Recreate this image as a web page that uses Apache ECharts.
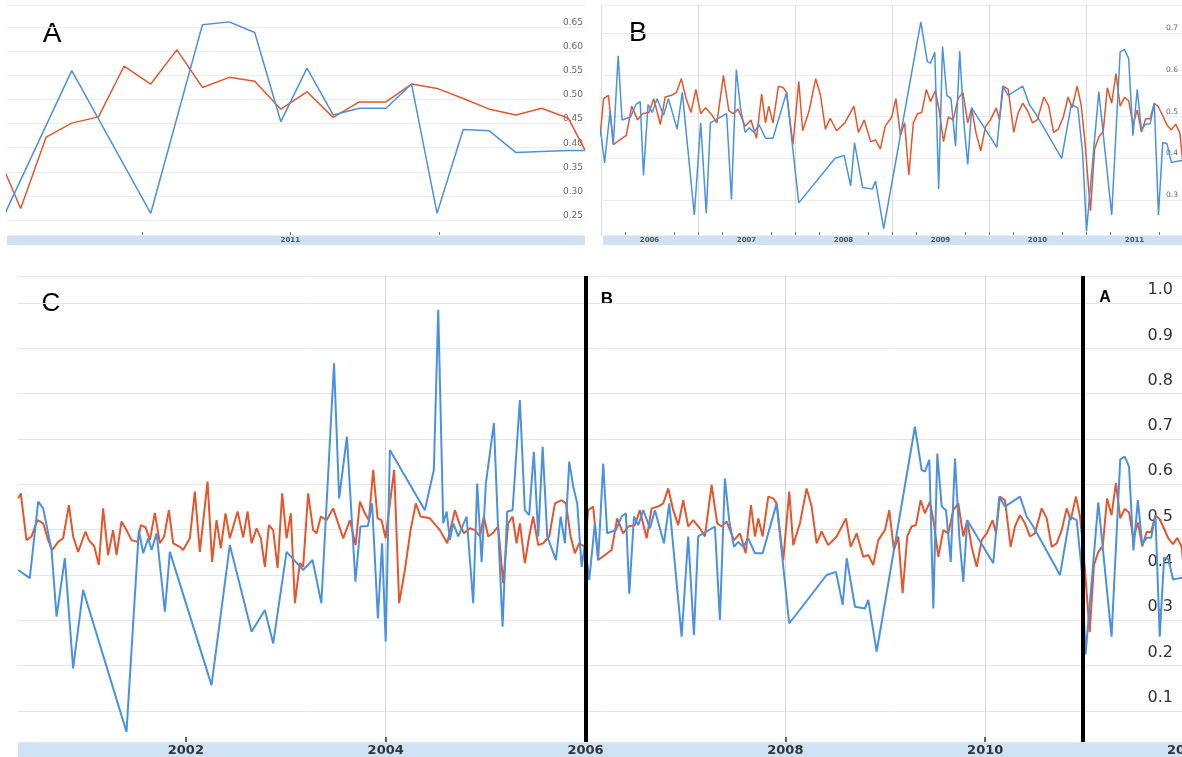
<!DOCTYPE html>
<html><head><meta charset="utf-8">
<script src="https://cdn.jsdelivr.net/npm/echarts@6/dist/echarts.min.js"></script>
<style>html,body{margin:0;padding:0;background:#fff}#c{width:1182px;height:757px}</style>
</head><body><div id="c"></div>
<script>
// [decimal year, value]
const redPoints = [
[2000.321,0.569],[2000.348,0.58],[2000.405,0.477],[2000.455,0.485],[2000.516,0.521],[2000.572,0.514],[2000.622,0.477],[2000.662,0.455],[2000.722,0.473],[2000.772,0.481],[2000.829,0.554],[2000.872,0.485],[2000.922,0.451],[2000.996,0.496],[2001.029,0.477],[2001.082,0.464],[2001.129,0.422],[2001.172,0.547],[2001.222,0.444],[2001.272,0.499],[2001.306,0.444],[2001.356,0.518],[2001.406,0.499],[2001.456,0.477],[2001.516,0.473],[2001.550,0.510],[2001.597,0.505],[2001.640,0.477],[2001.690,0.537],[2001.740,0.470],[2001.783,0.485],[2001.830,0.543],[2001.873,0.470],[2001.940,0.462],[2001.973,0.455],[2002.040,0.481],[2002.090,0.584],[2002.140,0.451],[2002.217,0.606],[2002.263,0.429],[2002.307,0.521],[2002.350,0.459],[2002.397,0.536],[2002.440,0.481],[2002.518,0.540],[2002.574,0.483],[2002.618,0.540],[2002.658,0.470],[2002.708,0.503],[2002.751,0.481],[2002.791,0.418],[2002.831,0.510],[2002.874,0.499],[2002.918,0.415],[2002.964,0.580],[2003.008,0.481],[2003.051,0.536],[2003.091,0.338],[2003.141,0.426],[2003.174,0.418],[2003.224,0.580],[2003.274,0.499],[2003.308,0.492],[2003.351,0.529],[2003.408,0.521],[2003.474,0.547],[2003.575,0.481],[2003.642,0.521],[2003.699,0.466],[2003.742,0.562],[2003.792,0.536],[2003.832,0.521],[2003.875,0.632],[2003.919,0.525],[2003.959,0.521],[2003.999,0.481],[2004.042,0.558],[2004.085,0.632],[2004.135,0.338],[2004.192,0.411],[2004.249,0.499],[2004.302,0.558],[2004.349,0.529],[2004.442,0.525],[2004.543,0.499],[2004.616,0.470],[2004.693,0.543],[2004.743,0.510],[2004.783,0.492],[2004.843,0.503],[2004.893,0.499],[2004.943,0.485],[2004.983,0.529],[2005.026,0.485],[2005.070,0.492],[2005.126,0.507],[2005.176,0.382],[2005.226,0.514],[2005.270,0.529],[2005.310,0.470],[2005.343,0.514],[2005.393,0.426],[2005.436,0.485],[2005.476,0.529],[2005.527,0.466],[2005.577,0.470],[2005.637,0.485],[2005.694,0.558],[2005.761,0.565],[2005.804,0.558],[2005.851,0.485],[2005.894,0.448],[2005.937,0.470],[2005.994,0.462],
[2006.027,0.543],[2006.077,0.551],[2006.127,0.433],[2006.194,0.444],[2006.261,0.455],[2006.317,0.525],[2006.377,0.492],[2006.427,0.507],[2006.494,0.510],[2006.544,0.543],[2006.612,0.481],[2006.662,0.547],[2006.728,0.551],[2006.778,0.558],[2006.828,0.591],[2006.878,0.543],[2006.928,0.510],[2006.978,0.565],[2007.028,0.507],[2007.078,0.521],[2007.145,0.503],[2007.195,0.485],[2007.262,0.599],[2007.318,0.514],[2007.362,0.507],[2007.413,0.518],[2007.486,0.477],[2007.546,0.492],[2007.603,0.448],[2007.656,0.554],[2007.696,0.485],[2007.729,0.525],[2007.773,0.485],[2007.829,0.573],[2007.879,0.569],[2007.913,0.558],[2007.979,0.433],[2008.039,0.584],[2008.079,0.466],[2008.146,0.514],[2008.213,0.591],[2008.263,0.551],[2008.313,0.470],[2008.363,0.496],[2008.429,0.466],[2008.514,0.485],[2008.607,0.525],[2008.654,0.462],[2008.714,0.492],[2008.780,0.440],[2008.830,0.444],[2008.880,0.422],[2008.930,0.477],[2008.997,0.499],[2009.040,0.543],[2009.087,0.455],[2009.130,0.485],[2009.174,0.360],[2009.220,0.485],[2009.264,0.507],[2009.307,0.510],[2009.354,0.565],[2009.397,0.536],[2009.447,0.562],[2009.487,0.514],[2009.531,0.440],[2009.581,0.499],[2009.631,0.492],[2009.681,0.543],[2009.731,0.558],[2009.781,0.485],[2009.821,0.521],[2009.865,0.462],[2009.915,0.418],[2009.965,0.477],[2010.015,0.492],[2010.075,0.521],[2010.108,0.492],[2010.148,0.573],[2010.198,0.565],[2010.255,0.462],[2010.298,0.507],[2010.348,0.532],[2010.398,0.514],[2010.448,0.485],[2010.498,0.492],[2010.566,0.547],[2010.616,0.525],[2010.666,0.462],[2010.716,0.470],[2010.766,0.499],[2010.816,0.547],[2010.856,0.521],[2010.909,0.573],[2010.949,0.529],[2010.985,0.45],
[2011.046,0.274],[2011.089,0.422],[2011.132,0.451],[2011.177,0.464],[2011.220,0.569],[2011.265,0.532],[2011.309,0.603],[2011.352,0.525],[2011.397,0.546],[2011.440,0.538],[2011.484,0.480],[2011.528,0.516],[2011.572,0.463],[2011.616,0.495],[2011.661,0.495],[2011.704,0.532],[2011.747,0.523],[2011.791,0.502],[2011.835,0.480],[2011.880,0.468],[2011.923,0.482],[2011.968,0.461],[2011.996,0.395]
];
const bluePoints = [
[2000.321,0.411],[2000.438,0.393],[2000.522,0.562],[2000.572,0.547],[2000.656,0.455],[2000.706,0.308],[2000.789,0.437],[2000.872,0.194],[2000.972,0.367],[2001.406,0.054],[2001.530,0.499],[2001.573,0.448],[2001.623,0.481],[2001.657,0.455],[2001.707,0.492],[2001.790,0.319],[2001.840,0.451],[2002.257,0.157],[2002.440,0.466],[2002.658,0.275],[2002.791,0.323],[2002.874,0.249],[2003.008,0.451],[2003.174,0.411],[2003.268,0.433],[2003.356,0.338],[2003.483,0.867],[2003.534,0.569],[2003.612,0.705],[2003.697,0.385],[2003.747,0.507],[2003.822,0.508],[2003.864,0.558],[2003.922,0.304],[2003.964,0.47],[2004.000,0.253],[2004.042,0.676],[2004.392,0.543],[2004.482,0.632],[2004.526,0.985],[2004.576,0.514],[2004.610,0.540],[2004.643,0.477],[2004.676,0.514],[2004.726,0.485],[2004.810,0.529],[2004.876,0.338],[2004.916,0.602],[2004.960,0.429],[2005.003,0.602],[2005.083,0.735],[2005.126,0.499],[2005.170,0.286],[2005.216,0.540],[2005.270,0.543],[2005.343,0.786],[2005.393,0.543],[2005.436,0.532],[2005.483,0.672],[2005.527,0.485],[2005.571,0.683],[2005.617,0.485],[2005.704,0.433],[2005.751,0.529],[2005.794,0.470],[2005.837,0.650],[2005.877,0.595],[2005.917,0.558],[2005.961,0.418],[2005.994,0.470],
[2006.037,0.389],[2006.094,0.514],[2006.127,0.433],[2006.177,0.646],[2006.217,0.492],[2006.304,0.499],[2006.361,0.529],[2006.404,0.536],[2006.438,0.359],[2006.485,0.529],[2006.528,0.510],[2006.578,0.543],[2006.645,0.503],[2006.695,0.543],[2006.785,0.470],[2006.838,0.558],[2006.962,0.264],[2007.028,0.485],[2007.085,0.268],[2007.128,0.485],[2007.295,0.507],[2007.345,0.301],[2007.395,0.613],[2007.438,0.521],[2007.486,0.462],[2007.528,0.473],[2007.578,0.462],[2007.629,0.481],[2007.696,0.448],[2007.773,0.448],[2007.913,0.558],[2008.039,0.293],[2008.413,0.400],[2008.507,0.407],[2008.574,0.334],[2008.614,0.437],[2008.697,0.330],[2008.797,0.326],[2008.830,0.345],[2008.914,0.231],[2009.297,0.727],[2009.364,0.632],[2009.397,0.628],[2009.441,0.654],[2009.481,0.326],[2009.521,0.668],[2009.565,0.551],[2009.608,0.543],[2009.655,0.429],[2009.698,0.657],[2009.741,0.485],[2009.781,0.385],[2009.821,0.521],[2010.081,0.426],[2010.141,0.573],[2010.198,0.551],[2010.348,0.573],[2010.415,0.529],[2010.481,0.507],[2010.749,0.400],[2010.849,0.529],[2010.916,0.521],[2010.966,0.411],[2011.005,0.225],
[2011.132,0.560],[2011.265,0.264],[2011.352,0.655],[2011.397,0.661],[2011.440,0.639],[2011.484,0.454],[2011.528,0.565],[2011.572,0.468],[2011.616,0.482],[2011.661,0.482],[2011.704,0.532],[2011.747,0.264],[2011.791,0.438],[2011.835,0.435],[2011.880,0.390],[2011.923,0.392],[2011.968,0.394],[2011.996,0.394]
];
const cYearTicks = [2002, 2004, 2006, 2008, 2010, 2012];
const bYearLabels = [2006, 2007, 2008, 2009, 2010, 2011];
const aYearLabels = [2011];
const markerYears = [2006, 2010.98];

const RED = '#e4562c', BLUE = '#4a92e0', BAND = '#cfe2f4';
const FONT = 'DejaVu Sans';

const bTicks = [];
bYearLabels.forEach(y => { [0.25, 0.75, 1].forEach(q => { if (y + q < 2012) bTicks.push(y + q); }); });
const aTicks = [2011.25, 2011.5, 2011.75];

function ls(data, color, width, xi, yi, extra) {
  return Object.assign({
    type: 'line', data: data, xAxisIndex: xi, yAxisIndex: yi,
    showSymbol: false, symbol: 'none', clip: true, animation: false,
    lineStyle: { color: color, width: width }, itemStyle: { color: color },
    emphasis: { disabled: true }
  }, extra || {});
}

const chart = echarts.init(document.getElementById('c'), null, { renderer: 'canvas' });
chart.setOption({
  animation: false,
  grid: [
    { left: 7, top: 5, width: 578, height: 230, outerBoundsMode: 'none', containLabel: false },
    { left: 601, top: 5, right: -1, height: 230, outerBoundsMode: 'none', containLabel: false },
    { left: 18, top: 276, right: -3, bottom: 15, outerBoundsMode: 'none', containLabel: false }
  ],
  xAxis: [
    { gridIndex: 0, type: 'value', min: 2011.023, max: 2011.996, minInterval: 0.25, maxInterval: 0.25,
      axisLine: { show: false }, splitLine: { show: false },
      axisTick: { inside: true, length: 3, customValues: aTicks, lineStyle: { color: '#777' } },
      axisLabel: { customValues: aYearLabels.map(y => y + 0.5), formatter: v => String(Math.floor(v)),
        margin: 2, fontSize: 7, fontWeight: 'bold', color: '#555', fontFamily: FONT } },
    { gridIndex: 1, type: 'value', min: 2006, max: 2012, interval: 1, position: 'top',
      axisLine: { show: false }, axisTick: { show: false }, axisLabel: { show: false },
      splitLine: { show: true, lineStyle: { color: '#dcdcdc', width: 1 } } },
    { gridIndex: 1, type: 'value', min: 2006, max: 2012, interval: 1, position: 'bottom',
      axisLine: { show: false }, splitLine: { show: false },
      axisTick: { inside: true, length: 3, customValues: bTicks, lineStyle: { color: '#777' } },
      axisLabel: { customValues: bYearLabels.map(y => y + 0.5), formatter: v => String(Math.floor(v)),
        margin: 2, fontSize: 7, fontWeight: 'bold', color: '#555', fontFamily: FONT } },
    { gridIndex: 2, type: 'value', min: 2000.32, max: 2012, minInterval: 2, maxInterval: 2,
      axisLine: { show: false },
      splitLine: { show: true, showMinLine: false, showMaxLine: false, lineStyle: { color: '#d6d6d6', width: 1 } },
      axisTick: { inside: true, length: 5, customValues: cYearTicks, lineStyle: { color: '#333', width: 1.5 } },
      axisLabel: { customValues: cYearTicks, formatter: v => String(Math.round(v)),
        margin: 2, fontSize: 13, fontWeight: 'bold', color: '#333', fontFamily: FONT } }
  ],
  yAxis: [
    { gridIndex: 0, type: 'value', position: 'right', min: 0.219, max: 0.696, minInterval: 0.05, maxInterval: 0.05,
      axisLine: { show: false }, axisTick: { show: false },
      splitLine: { lineStyle: { color: '#ececec' } },
      axisLabel: { inside: true, margin: 2, fontSize: 9, color: '#666', fontFamily: FONT, verticalAlign: 'bottom',
        showMinLabel: false, showMaxLabel: false, formatter: v => v.toFixed(2) } },
    { gridIndex: 1, type: 'value', position: 'right', min: 0.216, max: 0.7676, minInterval: 0.1, maxInterval: 0.1,
      axisLine: { show: false }, axisTick: { show: false },
      splitLine: { lineStyle: { color: '#ececec' } },
      axisLabel: { inside: true, margin: 5, fontSize: 7.5, color: '#666', fontFamily: FONT, verticalAlign: 'bottom',
        padding: [0, 0, 1, 0], showMinLabel: false, showMaxLabel: false, formatter: v => v.toFixed(1) } },
    { gridIndex: 2, type: 'value', position: 'right', min: 0.0316, max: 1.0596, minInterval: 0.1, maxInterval: 0.1,
      axisLine: { show: false }, axisTick: { show: false },
      splitLine: { lineStyle: { color: '#e6e6e6' } },
      axisLabel: { inside: true, margin: 12, fontSize: 16, color: '#333', fontFamily: FONT, verticalAlign: 'bottom',
        padding: [0, 0, 5, 0], showMinLabel: false, showMaxLabel: false, formatter: v => v.toFixed(1) } }
  ],
  series: [
    ls(redPoints, RED, 1.5, 0, 0),
    ls(bluePoints, BLUE, 1.5, 0, 0),
    ls(redPoints, RED, 1.5, 2, 1),
    ls(bluePoints, BLUE, 1.5, 2, 1),
    ls(redPoints, RED, 2, 3, 2),
    ls(bluePoints, BLUE, 2, 3, 2, {
      markLine: { silent: true, animation: false, symbol: ['none', 'none'], label: { show: false },
        emphasis: { disabled: true },
        lineStyle: { color: '#000', width: 4, type: 'solid' },
        data: markerYears.map(x => ({ xAxis: x })) }
    })
  ],
  graphic: [
    { type: 'rect', z: -1, silent: true, shape: { x: 7, y: 235, width: 578, height: 10 }, style: { fill: BAND } },
    { type: 'rect', z: -1, silent: true, shape: { x: 603, y: 235, width: 579, height: 10 }, style: { fill: BAND } },
    { type: 'rect', z: -1, silent: true, shape: { x: 18, y: 742, width: 1164, height: 15 }, style: { fill: BAND } },
    { type: 'text', x: 52, y: 34, style: { text: 'A', font: '28px "Liberation Sans"', fill: '#000', align: 'center', verticalAlign: 'middle', textAlign: 'center', textVerticalAlign: 'middle' } },
    { type: 'text', x: 638, y: 34, style: { text: 'B', font: '27px "Liberation Sans"', fill: '#000', align: 'center', verticalAlign: 'middle', textAlign: 'center', textVerticalAlign: 'middle' } },
    { type: 'text', x: 51, y: 304, style: { text: 'C', font: '26px "Liberation Sans"', fill: '#000', align: 'center', verticalAlign: 'middle', textAlign: 'center', textVerticalAlign: 'middle' } },
    { type: 'text', x: 607, y: 299, style: { text: 'B', font: 'bold 17px "Liberation Sans"', fill: '#000', align: 'center', verticalAlign: 'middle', textAlign: 'center', textVerticalAlign: 'middle' } },
    { type: 'text', x: 1105, y: 298, style: { text: 'A', font: 'bold 16px "Liberation Sans"', fill: '#000', align: 'center', verticalAlign: 'middle', textAlign: 'center', textVerticalAlign: 'middle' } }
  ]
});
</script>
</body></html>
